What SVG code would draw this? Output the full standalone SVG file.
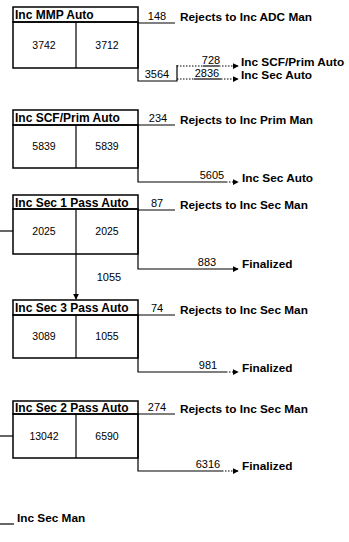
<svg xmlns="http://www.w3.org/2000/svg" width="349" height="542" viewBox="0 0 349 542">
<defs>
<style>
.box{fill:none;stroke:#000;stroke-width:1.5}
.ln{fill:none;stroke:#000;stroke-width:1.2}
.dot{fill:none;stroke:#000;stroke-width:1;stroke-dasharray:1.5 1.5}
.hd{font-family:"Liberation Sans",Arial,sans-serif;font-size:12px;font-weight:bold;fill:#000}
.lb{font-family:"Liberation Sans",Arial,sans-serif;font-size:11.8px;font-weight:bold;fill:#000}
.num{font-family:"Liberation Sans",Arial,sans-serif;font-size:10.5px;fill:#000;text-anchor:middle}
.sn{font-family:"Liberation Sans",Arial,sans-serif;font-size:11px;fill:#000;text-anchor:middle}
</style>
<marker id="ah" viewBox="0 0 8 8" refX="7" refY="4" markerWidth="6" markerHeight="6" orient="auto" markerUnits="userSpaceOnUse">
<path d="M0,0 L8,4 L0,8 z" fill="#000"/>
</marker>
</defs>

<g id="node-mmp">
<rect class="box" x="13" y="7" width="125" height="15"/>
<text class="hd" x="15" y="19">Inc MMP Auto</text>
<rect class="box" x="13" y="22" width="125" height="46"/>
<line class="ln" x1="76" y1="22" x2="76" y2="68"/>
<text class="num" x="44" y="49">3742</text>
<text class="num" x="107" y="49">3712</text>
</g>

<g id="node-scf">
<rect class="box" x="13" y="110" width="125" height="15"/>
<text class="hd" x="15" y="122">Inc SCF/Prim Auto</text>
<rect class="box" x="13" y="125" width="125" height="43"/>
<line class="ln" x1="76" y1="125" x2="76" y2="168"/>
<text class="num" x="44" y="150">5839</text>
<text class="num" x="107" y="150">5839</text>
</g>

<g id="node-sec1">
<rect class="box" x="13" y="195" width="125" height="14"/>
<text class="hd" x="15" y="206.5">Inc Sec 1 Pass Auto</text>
<rect class="box" x="13" y="209" width="125" height="45"/>
<line class="ln" x1="76" y1="209" x2="76" y2="254"/>
<text class="num" x="44" y="235">2025</text>
<text class="num" x="107" y="235">2025</text>
</g>

<g id="node-sec3">
<rect class="box" x="13" y="300" width="125" height="15"/>
<text class="hd" x="15" y="312">Inc Sec 3 Pass Auto</text>
<rect class="box" x="13" y="315" width="125" height="43"/>
<line class="ln" x1="76" y1="315" x2="76" y2="358"/>
<text class="num" x="44" y="340">3089</text>
<text class="num" x="107" y="340">1055</text>
</g>

<g id="node-sec2">
<rect class="box" x="13" y="401" width="125" height="13"/>
<text class="hd" x="15" y="412">Inc Sec 2 Pass Auto</text>
<rect class="box" x="13" y="414" width="125" height="44"/>
<line class="ln" x1="76" y1="414" x2="76" y2="458"/>
<text class="num" x="44" y="440">13042</text>
<text class="num" x="107" y="440">6590</text>
</g>

<g id="node-labels">
<text class="lb" x="180" y="21">Rejects to Inc ADC Man</text>
<text class="lb" x="241" y="66">Inc SCF/Prim Auto</text>
<text class="lb" x="241" y="79">Inc Sec Auto</text>
<text class="lb" x="180" y="124">Rejects to Inc Prim Man</text>
<text class="lb" x="242" y="182">Inc Sec Auto</text>
<text class="lb" x="180" y="209">Rejects to Inc Sec Man</text>
<text class="lb" x="242" y="268">Finalized</text>
<text class="lb" x="180" y="314">Rejects to Inc Sec Man</text>
<text class="lb" x="242" y="372">Finalized</text>
<text class="lb" x="180" y="413">Rejects to Inc Sec Man</text>
<text class="lb" x="242" y="470">Finalized</text>
<text class="lb" x="17" y="522">Inc Sec Man</text>
</g>

<g id="connectors">
<!-- block 1 -->
<polyline class="ln" points="138,23 175,23"/>
<text class="sn" x="157" y="20">148</text>
<polyline class="ln" points="138,22 138,81 177,81 177,65"/>
<text class="sn" x="157" y="78">3564</text>
<line class="dot" x1="177" y1="66" x2="203" y2="66"/>
<line class="ln" x1="203" y1="66" x2="219" y2="66"/>
<line class="dot" x1="219" y1="66" x2="238" y2="66" marker-end="url(#ah)"/>
<text class="sn" x="211" y="64">728</text>
<line class="dot" x1="177" y1="79" x2="194" y2="79"/>
<line class="ln" x1="194" y1="79" x2="221" y2="79"/>
<line class="dot" x1="221" y1="79" x2="238" y2="79" marker-end="url(#ah)"/>
<text class="sn" x="207" y="77">2836</text>
<!-- block 2 -->
<polyline class="ln" points="138,125 175,125"/>
<text class="sn" x="158" y="122">234</text>
<polyline class="ln" points="138,125 138,182 226,182"/>
<line class="dot" x1="226" y1="182" x2="238" y2="182" marker-end="url(#ah)"/>
<text class="sn" x="212" y="179">5605</text>
<!-- block 3 -->
<line class="ln" x1="0" y1="231" x2="13" y2="231"/>
<polyline class="ln" points="138,210 175,210"/>
<text class="sn" x="157" y="207">87</text>
<polyline class="ln" points="138,209 138,269 238,269" marker-end="url(#ah)"/>
<text class="sn" x="207" y="266">883</text>
<line class="ln" x1="76" y1="254" x2="76" y2="299" marker-end="url(#ah)"/>
<text class="sn" x="109" y="281">1055</text>
<!-- block 4 -->
<polyline class="ln" points="138,315 175,315"/>
<text class="sn" x="157" y="312">74</text>
<polyline class="ln" points="138,315 138,372 226,372"/>
<line class="dot" x1="226" y1="372" x2="238" y2="372" marker-end="url(#ah)"/>
<text class="sn" x="208" y="369">981</text>
<!-- block 5 -->
<line class="ln" x1="0" y1="436" x2="13" y2="436"/>
<polyline class="ln" points="138,414 175,414"/>
<text class="sn" x="157" y="411">274</text>
<polyline class="ln" points="138,414 138,471 222,471"/>
<line class="dot" x1="222" y1="471" x2="238" y2="471" marker-end="url(#ah)"/>
<text class="sn" x="208" y="468">6316</text>
<!-- bottom -->
<line class="ln" x1="0" y1="524" x2="14" y2="524"/>
</g>
</svg>
